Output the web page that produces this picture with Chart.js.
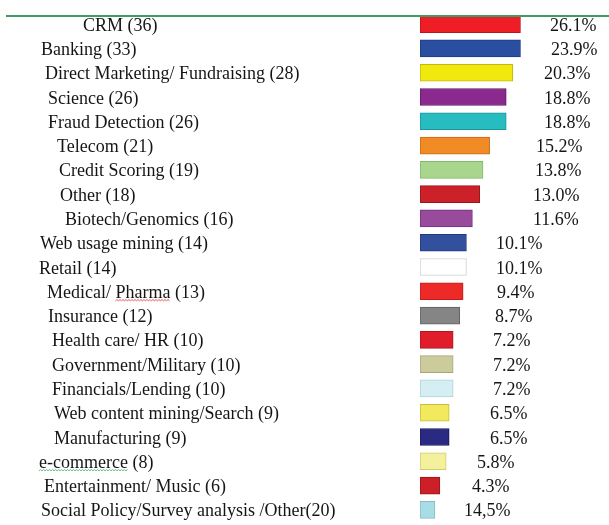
<!DOCTYPE html>
<html lang="en">
<head>
<meta charset="UTF-8">
<title>Application areas</title>
<script src="https://cdn.jsdelivr.net/npm/chart.js@4.4.0/dist/chart.umd.min.js"></script>
<style>
  body { margin: 0; background: #fff; }
</style>
</head>
<body>
<canvas id="chart" width="609" height="525"></canvas>
<script>
// categories with their counts, as printed
const areas = [
  "CRM (36)", "Banking (33)", "Direct Marketing/ Fundraising (28)", "Science (26)",
  "Fraud Detection (26)", "Telecom (21)", "Credit Scoring (19)", "Other (18)",
  "Biotech/Genomics (16)", "Web usage mining (14)", "Retail (14)", "Medical/ Pharma (13)",
  "Insurance (12)", "Health care/ HR (10)", "Government/Military (10)", "Financials/Lending (10)",
  "Web content mining/Search (9)", "Manufacturing (9)", "e-commerce (8)",
  "Entertainment/ Music (6)", "Social Policy/Survey analysis /Other(20)"
];
const percentLabels = [
  "26.1%", "23.9%", "20.3%", "18.8%", "18.8%", "15.2%", "13.8%", "13.0%", "11.6%",
  "10.1%", "10.1%", "9.4%", "8.7%", "7.2%", "7.2%", "7.2%", "6.5%", "6.5%", "5.8%",
  "4.3%", "14,5%"
];
// bar lengths as drawn in the picture (count units)
const barValues = [30.3, 30.3, 28, 26, 26, 21, 19, 18, 15.8, 14, 14, 13, 12, 10, 10, 10, 8.8, 8.8, 7.9, 6, 4.5];

const barColors = [
  "#ee1d26", "#2a4fa0", "#f1e90e", "#8a2a8e", "#27bdc0", "#f08b25", "#a8d68c",
  "#cc2128", "#984a9c", "#33509f", "#ffffff", "#ee2a28", "#858585", "#e01d2b",
  "#cccb9b", "#d4eef3", "#f2ea5c", "#2b2a82", "#f5f09b", "#cc1f28", "#a9dde6"
];
const edgeColors = [
  "#b8151c", "#1c3a80", "#c0b80a", "#5e1a62", "#1a9598", "#c46a18", "#86b86c",
  "#981820", "#723276", "#223a7c", "#d0d0d0", "#c01e1e", "#606060", "#b01520",
  "#a8a77a", "#b0d4da", "#c8be3a", "#1a1a5c", "#d0ca72", "#98161c", "#86bcc6"
];

// text placement
const labelX = [83, 41, 45, 48, 48, 57, 59, 60, 65, 40, 39, 47, 48, 52, 52, 52, 54, 54, 39, 44, 41];
const pctX = [550, 551, 544, 544, 544, 536, 535, 533, 533, 496, 496, 497, 495, 493, 493, 493, 490, 490, 477, 472, 464];

const FONT = '18px "Liberation Serif", serif';

function squiggle(ctx, x0, x1, y, color) {
  ctx.save();
  ctx.strokeStyle = color;
  ctx.lineWidth = 0.8;
  ctx.beginPath();
  let up = true;
  ctx.moveTo(x0, y);
  for (let x = x0 + 1.5; x <= x1; x += 1.5) {
    ctx.lineTo(x, up ? y - 1.2 : y);
    up = !up;
  }
  ctx.stroke();
  ctx.restore();
}

const textPlugin = {
  id: "textPlugin",
  afterDatasetsDraw(chart) {
    const ctx = chart.ctx;
    const yScale = chart.scales.y;
    // green rule at top
    ctx.save();
    ctx.strokeStyle = "#3f9b64";
    ctx.lineWidth = 2;
    ctx.beginPath();
    ctx.moveTo(6, 16);
    ctx.lineTo(609, 16);
    ctx.stroke();

    ctx.font = FONT;
    ctx.fillStyle = "#151515";
    ctx.textBaseline = "alphabetic";
    ctx.textAlign = "left";
    areas.forEach((txt, i) => {
      const y = yScale.getPixelForValue(i) + 6.5;
      ctx.fillText(txt, labelX[i], y);
      ctx.fillText(percentLabels[i], pctX[i], y);
      if (txt.startsWith("Medical")) {
        const a = ctx.measureText("Medical/ ").width;
        const b = ctx.measureText("Pharma").width;
        squiggle(ctx, labelX[i] + a, labelX[i] + a + b, y + 3, "#e03030");
      }
      if (txt.startsWith("e-commerce")) {
        const b = ctx.measureText("e-commerce").width;
        squiggle(ctx, labelX[i], labelX[i] + b, y + 3, "#3fae5a");
      }
    });
    ctx.restore();
  }
};

new Chart(document.getElementById("chart"), {
  type: "bar",
  data: {
    labels: areas,
    datasets: [{
      data: barValues,
      backgroundColor: barColors,
      borderColor: edgeColors,
      borderWidth: 1,
      borderSkipped: false,
      barThickness: 17
    }]
  },
  options: {
    indexAxis: "y",
    responsive: false,
    animation: false,
    devicePixelRatio: 1,
    layout: { padding: { left: 420, top: 12, right: 0, bottom: 3 } },
    plugins: { legend: { display: false }, tooltip: { enabled: false } },
    scales: {
      x: { display: false, min: 0, max: 57 },
      y: { display: false }
    }
  },
  plugins: [textPlugin]
});
</script>
</body>
</html>
